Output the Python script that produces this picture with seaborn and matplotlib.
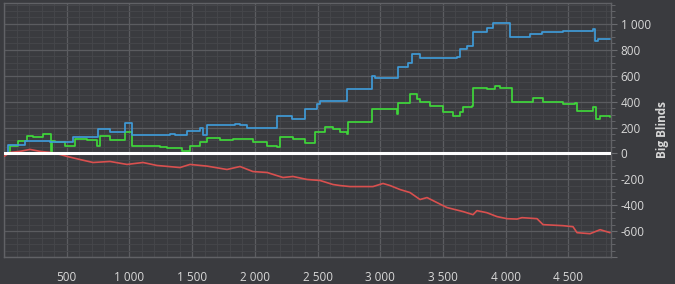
import matplotlib
matplotlib.use("Agg")
import matplotlib.pyplot as plt
from matplotlib.ticker import MultipleLocator, FuncFormatter
import seaborn as sns
import pandas as pd

# ---- data (hands played -> big blinds won) ----
blue_x = [0, 32, 167, 367, 550, 750, 845, 965, 1020, 1324, 1364, 1460, 1563, 1587, 1619, 1842, 1882, 1938,
          2177, 2296, 2400, 2496, 2520, 2735, 2935, 2958, 3142, 3221, 3253, 3317, 3612, 3636, 3692, 3740,
          3851, 3899, 4035, 4194, 4290, 4458, 4697, 4713, 4737, 4832]
blue_y = [0, 62, 93, 85, 124, 186, 163, 232, 140, 150, 140, 170, 200, 140, 217, 225, 217, 200,
          287, 264, 341, 380, 403, 496, 597, 581, 666, 700, 767, 736, 745, 806, 829, 937,
          969, 1008, 899, 922, 938, 946, 961, 868, 883, 883]

green_x = [0, 48, 112, 183, 231, 311, 367, 375, 383, 407, 486, 566, 662, 741, 765, 845, 965, 1020, 1244, 1300,
           1419, 1483, 1563, 1619, 1722, 1826, 1985, 2097, 2177, 2201, 2304, 2400, 2480, 2560, 2623, 2679,
           2735, 2739, 2919, 2935, 3078, 3134, 3142, 3237, 3293, 3317, 3397, 3500, 3580, 3636, 3660, 3732,
           3740, 3851, 3915, 3955, 4035, 4051, 4218, 4298, 4458, 4554, 4570, 4697, 4721, 4753, 4832]
green_y = [0, 54, 93, 132, 124, 147, 147, 5, 93, 85, 54, 108, 100, 54, 132, 100, 163, 54, 50, 40,
           16, 54, 85, 116, 100, 108, 85, 54, 47, 124, 108, 78, 163, 201, 186, 163,
           147, 240, 240, 341, 345, 302, 388, 457, 419, 395, 364, 318, 287, 318, 356, 364,
           504, 500, 519, 504, 504, 395, 426, 400, 380, 390, 325, 356, 264, 287, 279]

red_x = [0, 48, 128, 207, 287, 367, 447, 502, 606, 710, 845, 981, 1108, 1220, 1403, 1483, 1619, 1778, 1882,
         1985, 2097, 2225, 2304, 2416, 2520, 2623, 2679, 2759, 2863, 2942, 3022, 3078, 3158, 3237, 3317,
         3373, 3453, 3532, 3660, 3740, 3771, 3851, 3931, 4011, 4091, 4130, 4250, 4298, 4458, 4537, 4569,
         4673, 4753, 4832]
red_y = [-23, 8, 16, 31, 16, 8, -8, -23, -47, -70, -62, -85, -70, -93, -109, -85, -98, -124, -101,
         -140, -147, -186, -178, -201, -209, -240, -248, -256, -256, -256, -232, -248, -279, -302, -356,
         -341, -380, -418, -449, -473, -442, -458, -488, -504, -507, -496, -504, -550, -558, -566, -612,
         -620, -589, -612]

y_label = "Big Blinds"

BG = "#3a3b3f"
TXT = "#d8d8d8"

sns.set_theme(style="dark", rc={
    "figure.facecolor": BG,
    "axes.facecolor": BG,
    "axes.edgecolor": "#616266",
    "text.color": TXT,
    "xtick.color": "#6a6b6f",
    "ytick.color": "#6a6b6f",
    "xtick.labelcolor": TXT,
    "ytick.labelcolor": TXT,
})
plt.rcParams["font.family"] = ["Open Sans", "DejaVu Sans"]

fig = plt.figure(figsize=(6.75, 2.84), dpi=100)
ax = fig.add_axes([4 / 675, 1 - 257 / 284, 607 / 675, 254 / 284])

df_blue = pd.DataFrame({"hands": blue_x, "bb": blue_y})
df_green = pd.DataFrame({"hands": green_x, "bb": green_y})
df_red = pd.DataFrame({"hands": red_x, "bb": red_y})

sns.lineplot(data=df_blue, x="hands", y="bb", ax=ax, color="#3f9ad6", lw=1.25,
             estimator=None, drawstyle="steps-post", zorder=4)
sns.lineplot(data=df_green, x="hands", y="bb", ax=ax, color="#3fd63a", lw=1.25,
             estimator=None, drawstyle="steps-post", zorder=3)
sns.lineplot(data=df_red, x="hands", y="bb", ax=ax, color="#d9504f", lw=1.2,
             estimator=None, zorder=3)
ax.axhline(0, color="white", lw=2.2, zorder=6)

ax.set_xlim(0, 4840)
ax.set_ylim(-800, 1162)

ax.xaxis.set_major_locator(MultipleLocator(500))
ax.xaxis.set_minor_locator(MultipleLocator(100))
ax.yaxis.set_major_locator(MultipleLocator(200))
ax.yaxis.set_minor_locator(MultipleLocator(50))

ax.xaxis.set_major_formatter(FuncFormatter(lambda v, p: "" if v == 0 else f"{int(v):,}".replace(",", " ")))
ax.yaxis.set_major_formatter(FuncFormatter(lambda v, p: "" if v < -700 else f"{int(v):,}".replace(",", " ")))

ax.grid(which="major", color="#5b5c60", lw=0.9)
ax.grid(which="minor", color="#46474b", lw=0.6)
ax.set_axisbelow(True)

ax.yaxis.tick_right()
ax.yaxis.set_label_position("right")
ax.tick_params(axis="both", which="both", direction="out", labelsize=8.5)
ax.tick_params(axis="both", which="major", length=4, width=0.8, pad=3)
ax.tick_params(axis="both", which="minor", length=3, width=0.6)
ax.tick_params(axis="x", pad=6)

ax.set_xlabel("")
ax.set_ylabel(y_label, fontsize=8.5, fontweight="bold", color=TXT, labelpad=4)

for s in ax.spines.values():
    s.set_visible(True)
    s.set_color("#616266")
    s.set_linewidth(1.0)

fig.savefig("out.png", dpi=100, facecolor=BG)
